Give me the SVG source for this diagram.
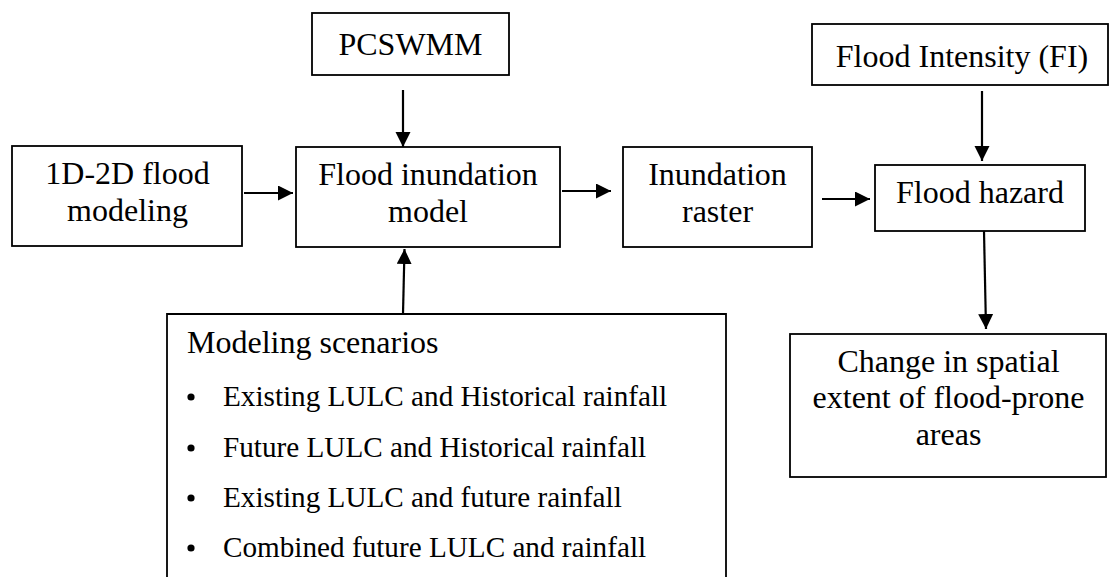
<svg xmlns="http://www.w3.org/2000/svg" width="1109" height="577" viewBox="0 0 1109 577">
<style>
.box{fill:#fff;stroke:#000;stroke-width:1.8}
.t{font-family:'Liberation Serif',serif;font-size:32px;fill:#000;text-anchor:middle}
.b{font-family:'Liberation Serif',serif;font-size:29.2px;fill:#000}
.c{stroke:#000;stroke-width:2.2;fill:none;marker-end:url(#ah)}
</style>
<defs>
<marker id="ah" markerUnits="userSpaceOnUse" markerWidth="16" markerHeight="16" refX="15" refY="7.5" orient="auto">
<path d="M0,0 L15,7.5 L0,15 z" fill="#000"/>
</marker>
</defs>
<rect width="1109" height="577" fill="#fff"/>
<g id="connectors">
<line class="c" x1="244" y1="193" x2="293" y2="193"/>
<line class="c" x1="403" y1="90" x2="403" y2="147"/>
<line class="c" x1="562" y1="191" x2="611" y2="191"/>
<line class="c" x1="822" y1="199" x2="870" y2="199"/>
<line class="c" x1="982" y1="91" x2="982" y2="161"/>
<line class="c" x1="984" y1="231" x2="986" y2="329"/>
<line class="c" x1="403" y1="314" x2="404.5" y2="249"/>
</g>
<g id="pcswmm">
<rect class="box" x="312" y="13" width="197" height="62"/>
<text class="t" x="410.5" y="55">PCSWMM</text>
</g>
<g id="flood-modeling">
<rect class="box" x="12" y="146" width="230" height="100"/>
<text class="t" x="127.5" y="184">1D-2D flood</text>
<text class="t" x="127.5" y="221">modeling</text>
</g>
<g id="inundation-model">
<rect class="box" x="296" y="147" width="264" height="100"/>
<text class="t" x="428" y="185">Flood inundation</text>
<text class="t" x="428" y="222">model</text>
</g>
<g id="inundation-raster">
<rect class="box" x="623" y="147" width="189" height="100"/>
<text class="t" x="717.5" y="185">Inundation</text>
<text class="t" x="717.5" y="222">raster</text>
</g>
<g id="flood-intensity">
<rect class="box" x="812" y="24" width="296" height="61"/>
<text class="t" x="962" y="67">Flood Intensity (FI)</text>
</g>
<g id="flood-hazard">
<rect class="box" x="875" y="165" width="210" height="66"/>
<text class="t" x="980" y="203">Flood hazard</text>
</g>
<g id="change-extent">
<rect class="box" x="790" y="334" width="316" height="143"/>
<text class="t" x="948.5" y="372">Change in spatial</text>
<text class="t" x="948.5" y="408">extent of flood-prone</text>
<text class="t" x="948.5" y="445">areas</text>
</g>
<g id="modeling-scenarios">
<path class="box" d="M167,580 L167,314 L726,314 L726,580"/>
<text class="t" x="187" y="353" style="text-anchor:start">Modeling scenarios</text>
<circle cx="191" cy="397" r="3.6"/>
<text class="b" x="223" y="406">Existing LULC and Historical rainfall</text>
<circle cx="191" cy="448" r="3.6"/>
<text class="b" x="223" y="457">Future LULC and Historical rainfall</text>
<circle cx="191" cy="498" r="3.6"/>
<text class="b" x="223" y="507">Existing LULC and future rainfall</text>
<circle cx="191" cy="548" r="3.6"/>
<text class="b" x="223" y="557">Combined future LULC and rainfall</text>
</g>
</svg>
